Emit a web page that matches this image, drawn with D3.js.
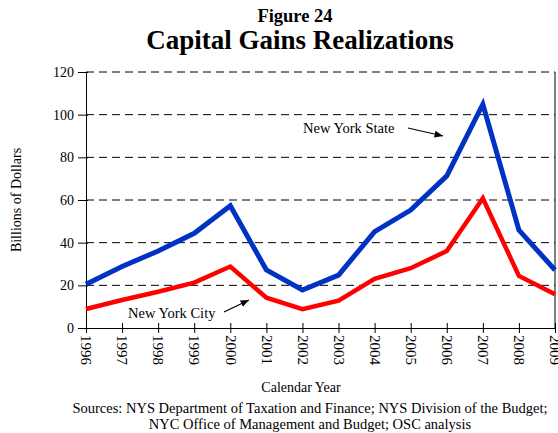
<!DOCTYPE html>
<html>
<head>
<meta charset="utf-8">
<script src="https://cdn.jsdelivr.net/npm/d3@7"></script>
<style>
  body { margin: 0; background: #fff; }
  text { font-family: "Liberation Serif", "Times New Roman", serif; fill: #000; }
</style>
</head>
<body>
<svg id="chart" width="558" height="433"></svg>
<script>
const years = [1996, 1997, 1998, 1999, 2000, 2001, 2002, 2003, 2004, 2005, 2006, 2007, 2008, 2009];
const nyState = [20.5, 28.8, 36.1, 44.4, 57.3, 27.2, 17.8, 24.8, 45.2, 55.3, 71.3, 104.9, 45.9, 27.2];
const nyCity = [8.9, 13.1, 17.0, 21.3, 28.8, 14.2, 8.8, 12.8, 23.0, 28.0, 36.1, 60.8, 24.4, 15.8];
const yTicks = [0, 20, 40, 60, 80, 100, 120];

const serif = "'Liberation Serif', 'Times New Roman', serif";
const svg = d3.select("#chart");
const margins = { top: 72, right: 3, bottom: 105, left: 86 };
const width = 558 - margins.left - margins.right;
const height = 433 - margins.top - margins.bottom;

svg.append("text").attr("x", 295).attr("y", 22).attr("text-anchor", "middle")
  .style("font-size", "18.5px").style("font-weight", "bold").text("Figure 24");
svg.append("text").attr("x", 300).attr("y", 49).attr("text-anchor", "middle")
  .style("font-size", "27px").style("font-weight", "bold").text("Capital Gains Realizations");

const g = svg.append("g").attr("transform", "translate(" + margins.left + "," + margins.top + ")");

const x = d3.scaleLinear().domain([1996, 2009]).range([0, width]);
const y = d3.scaleLinear().domain([0, 120]).range([height, 0]);

// gridlines
g.selectAll("line.grid")
  .data(yTicks.filter((d) => d > 0))
  .join("line")
  .attr("class", "grid")
  .attr("x1", 0).attr("x2", width)
  .attr("y1", (d) => y(d)).attr("y2", (d) => y(d))
  .attr("stroke", "#000").attr("stroke-width", 1)
  .attr("stroke-dasharray", "8,5");

// frame right side
g.append("line").attr("x1", width).attr("x2", width).attr("y1", 0).attr("y2", height)
  .attr("stroke", "#000");

const yAxis = g.append("g")
  .call(d3.axisLeft(y).tickValues(yTicks).tickSizeInner(8).tickSizeOuter(0).tickPadding(4));
yAxis.attr("font-family", serif).attr("font-size", 14);
yAxis.selectAll("line").attr("x2", -8).attr("x1", 2);

const xAxis = g.append("g").attr("transform", "translate(0," + height + ")")
  .call(d3.axisBottom(x).tickValues(years).tickFormat(d3.format("d")).tickSizeInner(5).tickSizeOuter(0));
xAxis.attr("font-family", serif).attr("font-size", 15);
xAxis.selectAll("line").attr("y1", -5).attr("y2", 5);
xAxis.selectAll("text")
  .attr("transform", "rotate(90)")
  .attr("x", 7).attr("y", 0).attr("dy", "0.35em")
  .attr("text-anchor", "start");
g.selectAll(".domain").attr("stroke", "#000");

const line = d3.line().x((d, i) => x(years[i])).y((d) => y(d));

g.append("path").datum(nyCity).attr("d", line)
  .attr("fill", "none").attr("stroke", "#ff0000").attr("stroke-width", 4.5)
  .attr("stroke-linejoin", "miter");
g.append("path").datum(nyState).attr("d", line)
  .attr("fill", "none").attr("stroke", "#0033c4").attr("stroke-width", 5)
  .attr("stroke-linejoin", "miter");

// annotations
svg.append("defs").append("marker")
  .attr("id", "arrow").attr("viewBox", "0 0 10 10").attr("refX", 10).attr("refY", 5)
  .attr("markerWidth", 7).attr("markerHeight", 7).attr("orient", "auto")
  .append("path").attr("d", "M0,1 L10,5 L0,9 z").attr("fill", "#000");

svg.append("text").attr("x", 303).attr("y", 133).style("font-size", "14.5px").text("New York State");
svg.append("line").attr("x1", 408).attr("y1", 128).attr("x2", 443).attr("y2", 136)
  .attr("stroke", "#000").attr("stroke-width", 1.2).attr("marker-end", "url(#arrow)");

svg.append("text").attr("x", 128).attr("y", 318).style("font-size", "14.5px").text("New York City");
svg.append("line").attr("x1", 224).attr("y1", 312).attr("x2", 249).attr("y2", 300)
  .attr("stroke", "#000").attr("stroke-width", 1.2).attr("marker-end", "url(#arrow)");

svg.append("text").attr("transform", "translate(21,200) rotate(-90)").attr("text-anchor", "middle")
  .style("font-size", "14px").text("Billions of Dollars");
svg.append("text").attr("x", 301).attr("y", 392).attr("text-anchor", "middle")
  .style("font-size", "14px").text("Calendar Year");
svg.append("text").attr("x", 310).attr("y", 413).attr("text-anchor", "middle")
  .style("font-size", "14.5px").text("Sources: NYS Department of Taxation and Finance; NYS Division of the Budget;");
svg.append("text").attr("x", 310).attr("y", 429).attr("text-anchor", "middle")
  .style("font-size", "14.5px").text("NYC Office of Management and Budget; OSC analysis");
</script>
</body>
</html>
